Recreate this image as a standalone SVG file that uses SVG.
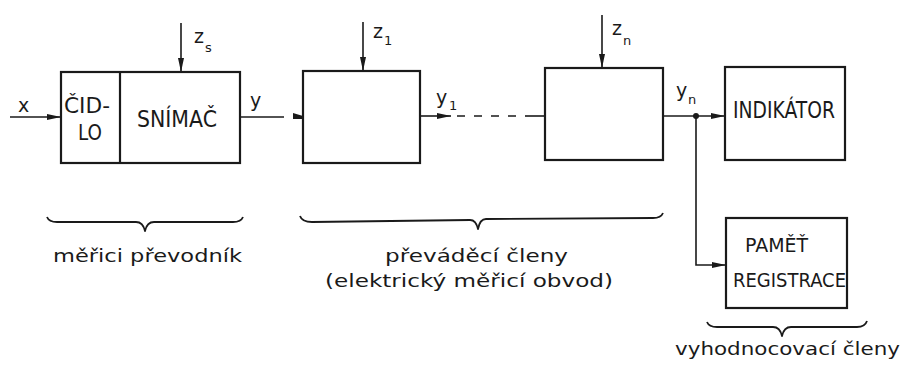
<svg xmlns="http://www.w3.org/2000/svg" width="904" height="367" viewBox="0 0 904 367">
<defs>
<style>
.box{fill:none;stroke:#1a1a1a;stroke-width:2.2}
.ln{fill:none;stroke:#1a1a1a;stroke-width:1.6}
.br{fill:none;stroke:#1a1a1a;stroke-width:1.8;stroke-linejoin:round}
.ah{fill:#1a1a1a}
text{font-family:"DejaVu Sans","Liberation Sans",sans-serif;fill:#1a1a1a}
.cap{font-size:21px}
.capl{font-size:23px}
.capm{font-size:20px}
.lbl{font-size:19px}
.sub{font-size:13px}
.lc{font-size:18px}
</style>
<marker id="arr" viewBox="0 0 14 8" refX="14" refY="4" markerWidth="14" markerHeight="8" markerUnits="userSpaceOnUse" orient="auto">
<path d="M0,1 L14,4 L0,7 Z" class="ah"/>
</marker>
</defs>

<g id="connectors">
<line class="ln" x1="10" y1="117" x2="61" y2="117" marker-end="url(#arr)"/>
<line class="ln" x1="181" y1="23" x2="181" y2="72" marker-end="url(#arr)"/>
<line class="ln" x1="240" y1="117" x2="284" y2="117"/>
<path class="ah" d="M293,113 L303,116 L303,119 L293,119 Z"/>
<line class="ln" x1="363" y1="22" x2="363" y2="71" marker-end="url(#arr)"/>
<line class="ln" x1="420" y1="116" x2="451" y2="116" marker-end="url(#arr)"/>
<line class="ln" x1="457" y1="116" x2="525" y2="116" stroke-dasharray="8 9"/>
<line class="ln" x1="525" y1="116" x2="545" y2="116"/>
<line class="ln" x1="602" y1="15" x2="602" y2="68" marker-end="url(#arr)"/>
<line class="ln" x1="663" y1="116" x2="725" y2="116" marker-end="url(#arr)"/>
<circle cx="696" cy="116" r="3" class="ah"/>
<polyline class="ln" points="696,116 696,265 726,265" marker-end="url(#arr)"/>
</g>

<g id="snimac">
<rect class="box" x="61" y="72" width="179" height="91"/>
<line class="box" x1="120" y1="72" x2="120" y2="163"/>
<text class="cap" x="64" y="113" textLength="46" lengthAdjust="spacingAndGlyphs">ČID-</text>
<text class="cap" x="78" y="140" textLength="24" lengthAdjust="spacingAndGlyphs">LO</text>
<text class="capl" x="137" y="127" textLength="80" lengthAdjust="spacingAndGlyphs">SNÍMAČ</text>
</g>

<g id="clen1">
<rect class="box" x="303" y="71" width="117" height="92"/>
</g>

<g id="clenn">
<rect class="box" x="545" y="68" width="118" height="92"/>
</g>

<g id="indikator">
<rect class="box" x="725" y="67" width="120" height="93"/>
<text class="capl" x="733" y="118" textLength="102" lengthAdjust="spacingAndGlyphs">INDIKÁTOR</text>
</g>

<g id="pamet">
<rect class="box" x="726" y="218" width="121" height="90"/>
<text class="capm" x="745" y="252" textLength="63" lengthAdjust="spacingAndGlyphs">PAMĚŤ</text>
<text class="capm" x="733" y="287" textLength="113" lengthAdjust="spacingAndGlyphs">REGISTRACE</text>
</g>

<g id="labels">
<text class="lbl" x="18" y="112">x</text>
<text class="lbl" x="194" y="43">z</text><text class="sub" x="205" y="52">s</text>
<text class="lbl" x="250" y="107">y</text>
<text class="lbl" x="373" y="38">z</text><text class="sub" x="384" y="45">1</text>
<text class="lbl" x="436" y="104">y</text><text class="sub" x="449" y="110">1</text>
<text class="lbl" x="612" y="35">z</text><text class="sub" x="623" y="45">n</text>
<text class="lbl" x="676" y="97">y</text><text class="sub" x="688" y="104">n</text>
</g>

<g id="braces">
<path class="br" d="M47,217 Q49,222 57,222 L136,222 Q143,222 145,231 Q147,222 154,222 L233,222 Q241,222 243,217"/>
<path class="br" d="M300,216 Q302,222 312,222 L470,220 Q476,220 478,229 Q480,219 486,219 L653,218 Q661,218 663,213"/>
<path class="br" d="M707,322 Q709,327 717,327 L773,327 Q780,327 782,336 Q784,327 791,327 L857,327 Q865,327 867,321"/>
</g>

<g id="captions">
<text class="lc" x="53" y="262" textLength="189" lengthAdjust="spacingAndGlyphs">měřici  převodník</text>
<text class="lc" x="385" y="262" textLength="183" lengthAdjust="spacingAndGlyphs">převáděcí  členy</text>
<text class="lc" x="325" y="287" textLength="288" lengthAdjust="spacingAndGlyphs">(elektrický  měřicí  obvod)</text>
<text class="lc" x="675" y="355" textLength="225" lengthAdjust="spacingAndGlyphs">vyhodnocovací  členy</text>
</g>
</svg>
